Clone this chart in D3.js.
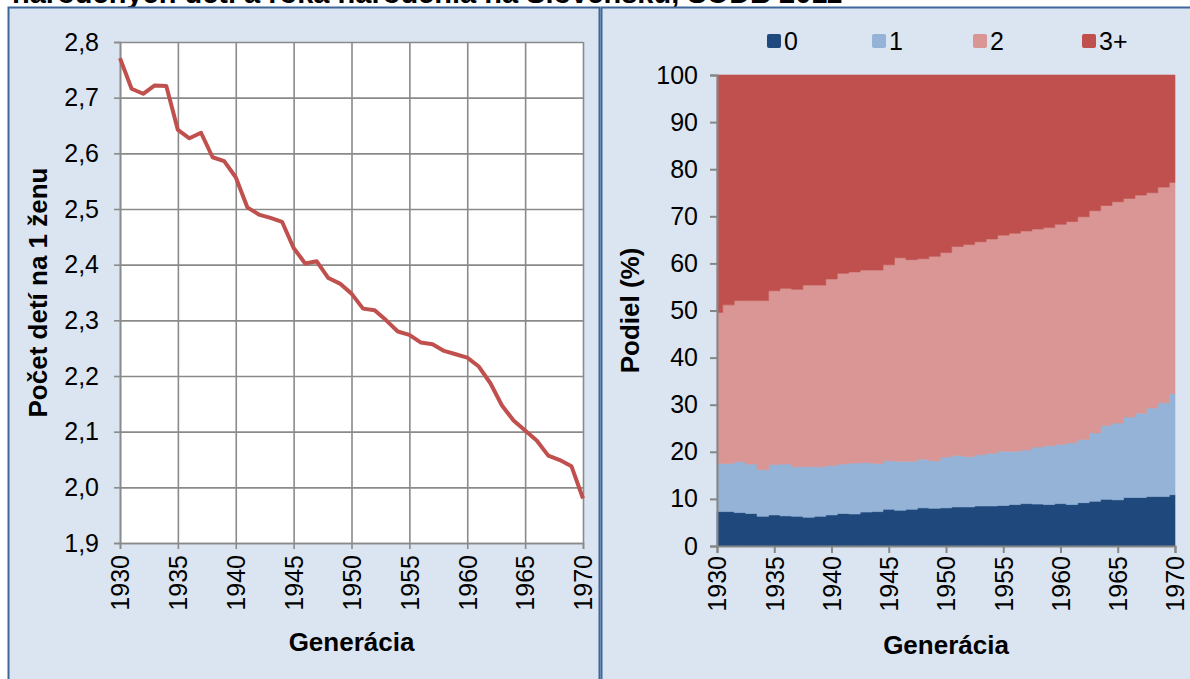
<!DOCTYPE html>
<html><head><meta charset="utf-8">
<script src="https://cdn.jsdelivr.net/npm/d3@7/dist/d3.min.js"></script>
<style>
html,body{margin:0;padding:0;background:#fff;}
svg{display:block;font-family:"Liberation Sans",Arial,sans-serif;}
</style></head>
<body><svg id="c" width="1190" height="679"></svg>
<script>
// ---------- DATA ----------
const titleText = "narodených detí a roka narodenia na Slovensku, SODB 2011";
const years = d3.range(1930, 1971);
const childrenPerWoman = [2.771,2.716,2.707,2.722,2.721,2.642,2.627,2.637,2.593,2.586,
  2.557,2.503,2.490,2.484,2.477,2.430,2.402,2.406,2.376,2.366,
  2.348,2.321,2.318,2.300,2.280,2.274,2.260,2.257,2.245,2.239,
  2.233,2.217,2.187,2.147,2.120,2.102,2.084,2.057,2.049,2.038,1.980];
const share0 = [7.3,7.3,7.1,6.9,6.3,6.6,6.4,6.3,6.1,6.3,6.6,6.9,6.8,7.2,7.3,7.8,7.6,7.8,8.1,8.0,
  8.1,8.3,8.3,8.5,8.5,8.6,8.8,9.0,8.9,8.8,9.0,8.8,9.2,9.5,9.9,9.8,10.3,10.3,10.5,10.5,10.9];
const share1 = [10.2,10.2,10.8,10.5,9.9,10.7,11.0,10.5,10.8,10.5,10.5,10.5,10.8,10.5,10.2,10.3,10.4,10.2,10.3,10.1,
  10.8,10.9,10.7,10.9,11.2,11.5,11.3,11.4,12.1,12.5,12.6,13.1,13.4,14.5,15.7,16.3,17.1,17.9,18.8,19.9,21.4];
const share2 = [32.1,33.7,34.2,34.7,35.9,36.9,37.3,37.7,38.5,38.6,39.6,40.5,40.6,40.9,41.1,41.6,43.2,42.8,42.6,43.4,
  43.4,44.4,45.0,45.2,45.5,45.9,46.3,46.5,46.3,46.3,46.7,47.0,47.3,47.2,46.7,47.0,46.4,46.3,45.7,45.8,44.9];
const share3 = [50.4,48.8,47.9,47.9,47.9,45.8,45.3,45.5,44.6,44.6,43.3,42.1,41.8,41.4,41.4,40.3,38.8,39.2,39.0,38.5,
  37.7,36.4,36.0,35.4,34.8,34.0,33.6,33.1,32.7,32.4,31.7,31.1,30.1,28.8,27.7,26.9,26.2,25.5,25.0,23.8,22.8];
const seriesNames = ["0","1","2","3+"];
const seriesColors = ["#1f497d","#95b3d7","#d99694","#c0504d"];
const xTickYears = [1930,1935,1940,1945,1950,1955,1960,1965,1970];
const leftYTicks = [1.9,2.0,2.1,2.2,2.3,2.4,2.5,2.6,2.7,2.8];
const rightYTicks = [0,10,20,30,40,50,60,70,80,90,100];
const leftYTitle = "Počet detí na 1 ženu";
const rightYTitle = "Podiel (%)";
const xTitle = "Generácia";

// ---------- DRAW ----------
const svg = d3.select("#c");
const panelFill = "#dbe5f1", panelStroke = "#3f6699", gridC = "#8a8a8a", axisC = "#868686";
const tickFS = 25, titleFS = 26;
const skFmt = d3.formatLocale({decimal:",",thousands:" ",grouping:[3],currency:["","€"]}).format(".1f");

// title (cut off at top, as in the reference)
svg.append("text").attr("x",12).attr("y",3).attr("font-size",29).attr("font-weight","bold")
  .attr("fill","#000").text(titleText);

// panels
svg.append("rect").attr("x",8.5).attr("y",7.5).attr("width",591).attr("height",690)
  .attr("fill",panelFill).attr("stroke",panelStroke).attr("stroke-width",2);
svg.append("rect").attr("x",601.5).attr("y",7.5).attr("width",600).attr("height",690)
  .attr("fill",panelFill).attr("stroke",panelStroke).attr("stroke-width",2);

function styleText(sel){ sel.attr("font-size",tickFS).attr("fill","#000").attr("font-family","Liberation Sans, Arial, sans-serif"); }

// ----- left chart -----
const L = {l:120, r:583, t:42, b:543};
const xL = d3.scaleLinear().domain([1930,1970]).range([L.l,L.r]);
const yL = d3.scaleLinear().domain([1.9,2.8]).range([L.b,L.t]);
const gL = svg.append("g");
gL.append("rect").attr("x",L.l).attr("y",L.t).attr("width",L.r-L.l).attr("height",L.b-L.t).attr("fill","#fff");
gL.append("g").attr("transform",`translate(${L.l},0)`)
  .call(d3.axisLeft(yL).tickValues(leftYTicks).tickSize(-(L.r-L.l)).tickFormat(""))
  .call(g=>{g.select(".domain").remove(); g.selectAll("line").attr("stroke",gridC).attr("stroke-width",1.6);});
gL.append("g").attr("transform",`translate(0,${L.t})`)
  .call(d3.axisBottom(xL).tickValues(xTickYears).tickSize(L.b-L.t).tickFormat(""))
  .call(g=>{g.select(".domain").remove(); g.selectAll("line").attr("stroke",gridC).attr("stroke-width",1.6);});
gL.append("g").attr("transform",`translate(${L.l},0)`)
  .call(d3.axisLeft(yL).tickValues(leftYTicks).tickSize(6).tickPadding(15).tickFormat(skFmt))
  .call(g=>{g.select(".domain").attr("stroke",gridC).attr("stroke-width",1.6);
    g.selectAll("line").attr("stroke",gridC).attr("stroke-width",1.6);
    styleText(g.selectAll("text"));});
gL.append("g").attr("transform",`translate(0,${L.b})`)
  .call(d3.axisBottom(xL).tickValues(xTickYears).tickSize(6).tickFormat(d3.format("d")))
  .call(g=>{g.select(".domain").attr("stroke",gridC).attr("stroke-width",1.6);
    g.selectAll("line").attr("stroke",gridC).attr("stroke-width",1.6);
    styleText(g.selectAll("text"));
    g.selectAll("text").attr("text-anchor","end").attr("transform","rotate(-90)").attr("x",-12).attr("y",0).attr("dy","0.35em");});
gL.append("path").datum(years.map((y,i)=>[y,childrenPerWoman[i]]))
  .attr("fill","none").attr("stroke","#c0504d").attr("stroke-width",4).attr("stroke-linejoin","round")
  .attr("d", d3.line().x(d=>xL(d[0])).y(d=>yL(d[1])));
svg.append("text").attr("transform",`translate(38,${(L.t+L.b)/2}) rotate(-90)`).attr("text-anchor","middle")
  .attr("dy","0.35em").attr("font-size",titleFS).attr("font-weight","bold").text(leftYTitle);
svg.append("text").attr("x",(L.l+L.r)/2).attr("y",642).attr("text-anchor","middle").attr("dy","0.35em")
  .attr("font-size",titleFS).attr("font-weight","bold").text(xTitle);

// ----- right chart -----
const R = {l:717, r:1175, t:75, b:546};
const xR = d3.scaleLinear().domain([1930,1970]).range([R.l,R.r]);
const yR = d3.scaleLinear().domain([0,100]).range([R.b,R.t]);
const rows = years.map((y,i)=>({year:y, "0":share0[i], "1":share1[i], "2":share2[i], "3+":share3[i]}));
const stacked = d3.stack().keys(seriesNames)(rows);
const area = d3.area().curve(d3.curveStep).x(d=>xR(d.data.year)).y0(d=>yR(d[0])).y1(d=>yR(d[1]));
const gR = svg.append("g");
gR.selectAll("path.layer").data(stacked).join("path").attr("class","layer")
  .attr("fill",(d,i)=>seriesColors[i]).attr("stroke",(d,i)=>seriesColors[i]).attr("stroke-width",0.6).attr("d",area);
gR.append("g").attr("transform",`translate(${R.l},0)`)
  .call(d3.axisLeft(yR).tickValues(rightYTicks).tickSize(7).tickPadding(12).tickFormat(d3.format("d")))
  .call(g=>{g.select(".domain").attr("stroke",axisC).attr("stroke-width",2);
    g.selectAll("line").attr("stroke",axisC).attr("stroke-width",2);
    styleText(g.selectAll("text"));});
gR.append("g").attr("transform",`translate(0,${R.b})`)
  .call(d3.axisBottom(xR).tickValues(xTickYears).tickSize(7).tickFormat(d3.format("d")))
  .call(g=>{g.select(".domain").attr("stroke",axisC).attr("stroke-width",2);
    g.selectAll("line").attr("stroke",axisC).attr("stroke-width",2);
    styleText(g.selectAll("text"));
    g.selectAll("text").attr("text-anchor","end").attr("transform","rotate(-90)").attr("x",-10).attr("y",0).attr("dy","0.35em");});
svg.append("text").attr("transform",`translate(630,${(R.t+R.b)/2}) rotate(-90)`).attr("text-anchor","middle")
  .attr("dy","0.35em").attr("font-size",titleFS).attr("font-weight","bold").text(rightYTitle);
svg.append("text").attr("x",(R.l+R.r)/2).attr("y",645).attr("text-anchor","middle").attr("dy","0.35em")
  .attr("font-size",titleFS).attr("font-weight","bold").text(xTitle);

// legend
const legX = [767, 872, 973, 1082];
const leg = svg.append("g").selectAll("g").data(seriesNames).join("g")
  .attr("transform",(d,i)=>`translate(${legX[i]},41)`);
leg.append("rect").attr("x",0).attr("y",-7).attr("width",14).attr("height",14).attr("rx",2)
  .attr("fill",(d,i)=>seriesColors[i]);
leg.append("text").attr("x",17).attr("y",0).attr("dy","0.35em").attr("font-size",tickFS).text(d=>d);
</script></body></html>
